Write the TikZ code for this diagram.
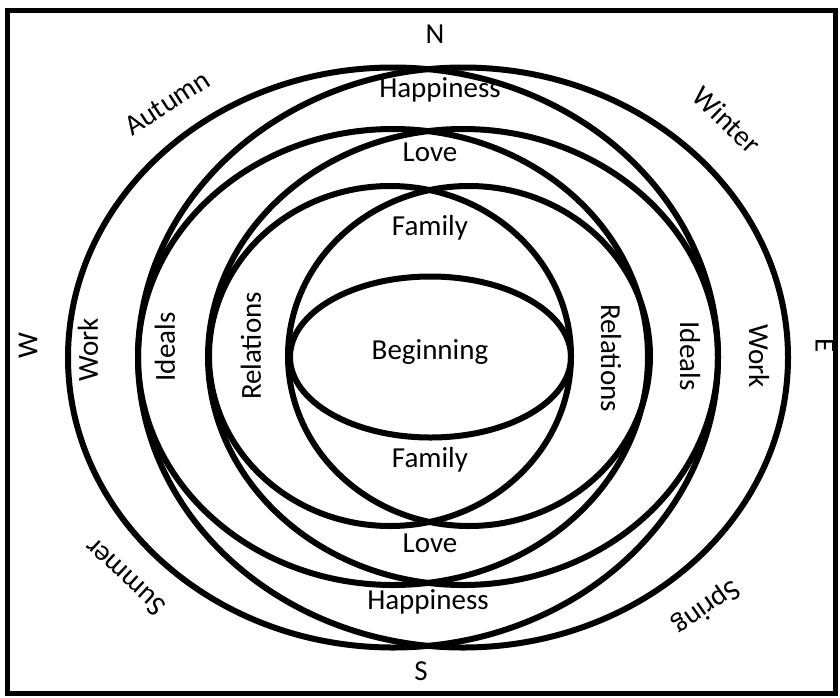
\documentclass[tikz,border=0pt]{standalone}
\usepackage{fontspec}
\setmainfont{Carlito}
\begin{document}
\begin{tikzpicture}[x=1pt,y=-1pt,
  ring/.style={line width=6pt},
  frame/.style={line width=5pt},
  lbl/.style={font=\fontsize{29}{34}\selectfont, inner sep=0pt}]
\useasboundingbox (0,0) rectangle (840,697);
\draw[frame] (7,10) rectangle (835,693);
% outer pair (Happiness / Work)
\draw[ring] (393,357.5) ellipse [x radius=325, y radius=290];
\draw[ring] (463,357.5) ellipse [x radius=325, y radius=290];
% love pair (Love / Ideals)
\draw[ring] (393,357) ellipse [x radius=255, y radius=228];
\draw[ring] (463,357) ellipse [x radius=255, y radius=228];
% family pair (Family / Relations)
\draw[ring] (390,356) ellipse [x radius=181, y radius=170];
\draw[ring] (469,356) ellipse [x radius=181, y radius=170];
% beginning
\draw[ring] (430.5,357) ellipse [x radius=140.5, y radius=80.5];
% compass
\node[lbl] (n) at (435,34) {N};
\node[lbl] (s) at (421,671) {S};
\node[lbl, rotate=90] (w) at (28,346) {W};
\node[lbl, rotate=-90] (e) at (825,346) {E};
% seasons
\node[lbl, rotate=33] (autumn) at (167,103) {Autumn};
\node[lbl, rotate=-44] (winter) at (727,120) {Winter};
\node[lbl, rotate=137] (summer) at (125,577) {Summer};
\node[lbl, rotate=-145] (spring) at (706,607) {Spring};
% labels
\node[lbl] (hapt) at (440,90) {Happiness};
\node[lbl] (hapb) at (428,602) {Happiness};
\node[lbl] (lovet) at (430,152) {Love};
\node[lbl] (loveb) at (430,543) {Love};
\node[lbl] (famt) at (430,228) {Family};
\node[lbl] (famb) at (430,460) {Family};
\node[lbl] (beg) at (430,352) {Beginning};
\node[lbl, rotate=90] (workl) at (88,350) {Work};
\node[lbl, rotate=90] (idl) at (165,347) {Ideals};
\node[lbl, rotate=90] (rell) at (251,346) {Relations};
\node[lbl, rotate=-90] (relr) at (611,358) {Relations};
\node[lbl, rotate=-90] (idr) at (690,356) {Ideals};
\node[lbl, rotate=-90] (workr) at (759,356) {Work};
\end{tikzpicture}
\end{document}
